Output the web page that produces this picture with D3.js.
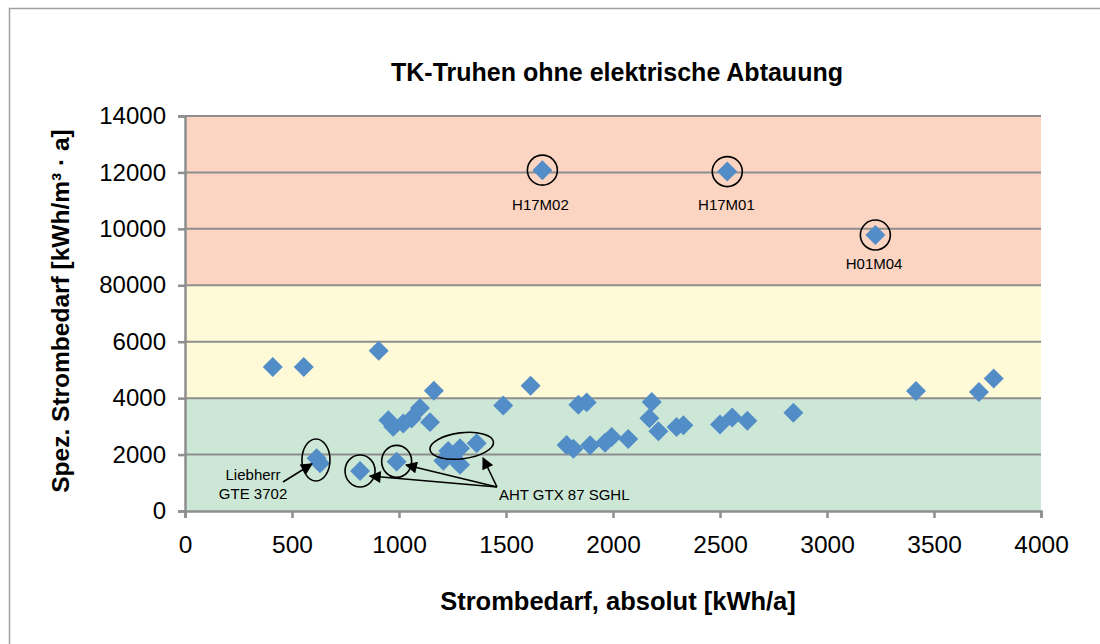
<!DOCTYPE html>
<html>
<head>
<meta charset="utf-8">
<script src="https://cdn.jsdelivr.net/npm/d3@7"></script>
<style>
  body { margin: 0; background: #fff; }
  svg text { font-family: "Liberation Sans", Arial, sans-serif; }
</style>
</head>
<body>
<svg id="chart" width="1100" height="644"></svg>
<script>
// Spec. consumption vs. absolute consumption of freezer chests
var pointsX = [410, 555, 905, 950, 973, 1020, 1059, 1098, 1145, 1163, 1487, 1615, 1838, 1877, 2181, 2170,
    2212, 2297, 2329, 2500, 2557, 2628, 2843, 3416, 3710, 3779, 1783, 1815, 1893, 1963, 1994, 2071,
    615, 631, 818, 989, 1207, 1230, 1252, 1285, 1285, 1363, 1670, 2534, 3226];
var pointsY = [5100, 5100, 5680, 3220, 2990, 3100, 3280, 3650, 3150, 4265, 3740, 4440, 3770, 3850, 3860, 3290,
    2830, 2980, 3040, 3070, 3310, 3200, 3480, 4250, 4220, 4700, 2340, 2210, 2330, 2420, 2620, 2550,
    1870, 1690, 1420, 1750, 1780, 2130, 1930, 2220, 1640, 2400, 12080, 12030, 9780];

var xTicks = [0, 500, 1000, 1500, 2000, 2500, 3000, 3500, 4000];
var yTicks = [0, 2000, 4000, 6000, 8000, 10000, 12000, 14000];
// the original chart really shows "80000" at the 8000 line
var yTickLabels = ["0", "2000", "4000", "6000", "80000", "10000", "12000", "14000"];

// background bands: [from, to, colour]
var bandFrom = [0, 4000, 8000];
var bandTo = [4000, 8000, 14000];
var bandColors = ["#cde7d6", "#fef9d6", "#fbd4c2"];

// labelled outliers
var outlierNames = ["H17M02", "H17M01", "H01M04"];
var outlierX = [1670, 2534, 3226];
var outlierY = [12080, 12030, 9780];
var outlierLabelX = [1661, 2530, 3220];
var outlierLabelY = [10668, 10668, 8577];

var svg = d3.select("#chart");
var margin = {left: 185, right: 59, top: 116, bottom: 133};
var width = 1100 - margin.left - margin.right;
var height = 644 - margin.top - margin.bottom;

// outer frame of the chart object
svg.append("path")
    .attr("d", "M9.5,700 V8.5 H1100")
    .attr("fill", "none")
    .attr("stroke", "#a0a0a0")
    .attr("stroke-width", 1.5);

var x = d3.scaleLinear().domain([0, 4000]).range([0, width]);
var y = d3.scaleLinear().domain([0, 14000]).range([height, 0]);

var g = svg.append("g").attr("transform", "translate(" + margin.left + "," + margin.top + ")");

g.selectAll(".band").data(bandFrom).enter().append("rect")
    .attr("class", "band")
    .attr("x", 0)
    .attr("width", width)
    .attr("y", function(d, i){ return y(bandTo[i]); })
    .attr("height", function(d, i){ return y(d) - y(bandTo[i]); })
    .attr("fill", function(d, i){ return bandColors[i]; });

// horizontal grid lines
g.selectAll(".grid").data(yTicks.slice(1)).enter().append("line")
    .attr("class", "grid")
    .attr("x1", 0).attr("x2", width)
    .attr("y1", function(d){ return y(d); })
    .attr("y2", function(d){ return y(d); })
    .attr("stroke", "#8e8e8e")
    .attr("stroke-width", 2);

var yAxis = g.append("g")
    .call(d3.axisLeft(y).tickValues(yTicks)
        .tickFormat(function(d, i){ return yTickLabels[i]; })
        .tickSize(7).tickPadding(12));

var xAxis = g.append("g")
    .attr("transform", "translate(0," + height + ")")
    .call(d3.axisBottom(x).tickValues(xTicks).tickFormat(d3.format("d"))
        .tickSize(7).tickPadding(18));

[xAxis, yAxis].forEach(function(a){
    a.select(".domain").attr("stroke", "#8e8e8e").attr("stroke-width", 2.5);
    a.selectAll(".tick line").attr("stroke", "#8e8e8e").attr("stroke-width", 2.5);
    a.selectAll(".tick text")
        .attr("fill", "#000")
        .style("font-family", "'Liberation Sans', Arial, sans-serif");
});
yAxis.selectAll(".tick text").style("font-size", "24px");
xAxis.selectAll(".tick text").style("font-size", "24.5px");

// data points, drawn as diamonds
var diamond = d3.symbol().type(d3.symbolSquare).size(200);
g.selectAll(".pt").data(pointsX).enter().append("path")
    .attr("class", "pt")
    .attr("d", diamond)
    .attr("transform", function(d, i){
        return "translate(" + x(d) + "," + y(pointsY[i]) + ") rotate(45)";
    })
    .attr("fill", "#538dc8");

// circles and labels around the outliers
g.selectAll(".ring").data(outlierX).enter().append("circle")
    .attr("cx", function(d){ return x(d); })
    .attr("cy", function(d, i){ return y(outlierY[i]); })
    .attr("r", 15)
    .attr("fill", "none")
    .attr("stroke", "#000")
    .attr("stroke-width", 1.6);

g.selectAll(".olabel").data(outlierNames).enter().append("text")
    .attr("x", function(d, i){ return x(outlierLabelX[i]); })
    .attr("y", function(d, i){ return y(outlierLabelY[i]); })
    .attr("text-anchor", "middle")
    .style("font-size", "15px")
    .text(function(d){ return d; });

// annotations for the low consumers
var defs = svg.append("defs");
defs.append("marker")
    .attr("id", "head")
    .attr("viewBox", "0 0 10 10")
    .attr("refX", 9).attr("refY", 5)
    .attr("markerWidth", 14).attr("markerHeight", 12)
    .attr("markerUnits", "userSpaceOnUse")
    .attr("orient", "auto")
    .append("path").attr("d", "M0,0 L10,5 L0,10 Z").attr("fill", "#000");

var ringStyle = function(sel){
    sel.attr("fill", "none").attr("stroke", "#000").attr("stroke-width", 1.6);
};

g.append("ellipse")
    .attr("cx", x(612)).attr("cy", y(1808)).attr("rx", 14).attr("ry", 21)
    .call(ringStyle);
g.append("ellipse")
    .attr("cx", x(818)).attr("cy", y(1420)).attr("rx", 15).attr("ry", 16)
    .call(ringStyle);
g.append("ellipse")
    .attr("cx", x(989)).attr("cy", y(1760)).attr("rx", 15).attr("ry", 16)
    .call(ringStyle);
g.append("ellipse")
    .attr("transform", "translate(" + x(1293) + "," + y(2311) + ") rotate(-7)")
    .attr("rx", 32).attr("ry", 13)
    .call(ringStyle);

var arrow = function(x1, y1, x2, y2){
    g.append("line")
        .attr("x1", x(x1)).attr("y1", y(y1))
        .attr("x2", x(x2)).attr("y2", y(y2))
        .attr("stroke", "#000").attr("stroke-width", 1.6)
        .attr("marker-end", "url(#head)");
};
arrow(458, 1028, 593, 1666);
arrow(1458, 851, 864, 1240);
arrow(1458, 851, 1033, 1630);
arrow(1458, 851, 1393, 1879);

g.append("text").attr("x", x(318)).attr("y", y(1099))
    .attr("text-anchor", "middle").style("font-size", "15px").text("Liebherr");
g.append("text").attr("x", x(318)).attr("y", y(425))
    .attr("text-anchor", "middle").style("font-size", "15px").text("GTE 3702");
g.append("text").attr("x", x(1467)).attr("y", y(390))
    .style("font-size", "15px").text("AHT GTX 87 SGHL");

// titles
svg.append("text")
    .attr("x", 617).attr("y", 81)
    .attr("text-anchor", "middle")
    .style("font-size", "25px").style("font-weight", "bold")
    .text("TK-Truhen ohne elektrische Abtauung");

svg.append("text")
    .attr("x", 618).attr("y", 610)
    .attr("text-anchor", "middle")
    .style("font-size", "25.5px").style("font-weight", "bold")
    .text("Strombedarf, absolut [kWh/a]");

svg.append("text")
    .attr("transform", "translate(69,311) rotate(-90)")
    .attr("text-anchor", "middle")
    .style("font-size", "24.5px").style("font-weight", "bold")
    .text("Spez. Strombedarf [kWh/m³ · a]");
</script>
</body>
</html>
